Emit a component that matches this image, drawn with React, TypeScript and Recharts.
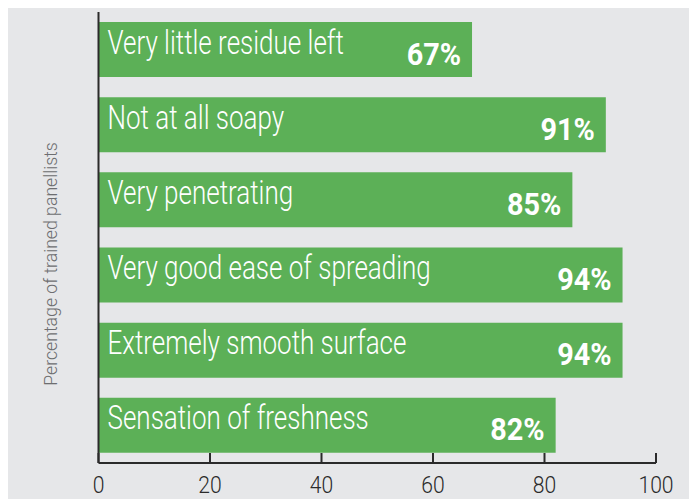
import React from "react";
import { BarChart, Bar, XAxis, YAxis, LabelList } from "recharts";

const categories = [
  "Very little residue left",
  "Not at all soapy",
  "Very penetrating",
  "Very good ease of spreading",
  "Extremely smooth surface",
  "Sensation of freshness",
];
const values = [67, 91, 85, 94, 94, 82];
const xTicks = [0, 20, 40, 60, 80, 100];

const data = categories.map((name, i) => ({ name, value: values[i] }));

const FONT = "Roboto, 'Liberation Sans', sans-serif";
const GREEN = "#5cb057";
const BG = "#e6e7e9";
const INK = "#2b2b2b";

// condensed look: squeeze the glyphs horizontally
const NameLabel = (p: any) => (
  <text
    transform={`translate(${p.x + 9},${p.y + p.height / 2 + 4}) scale(0.765,1)`}
    fill="#fff"
    fontFamily={FONT}
    fontSize={34}
    fontWeight={300}
  >
    {p.value}
  </text>
);

const ValueLabel = (p: any) => (
  <text
    transform={`translate(${p.x + p.width - 11},${p.y + p.height / 2 + 15}) scale(0.93,1)`}
    fill="#fff"
    fontFamily={FONT}
    fontSize={31}
    fontWeight={700}
    textAnchor="end"
  >
    {p.value}%
  </text>
);

const XTick = (p: any) => (
  <g>
    <line x1={p.x} x2={p.x} y1={p.y - 10} y2={p.y} stroke={INK} strokeWidth={2} />
    <text
      transform={`translate(${p.x},${p.y + 30}) scale(0.92,1)`}
      textAnchor="middle"
      fill={INK}
      fontFamily={FONT}
      fontSize={23}
      fontWeight={300}
    >
      {p.payload.value}
    </text>
  </g>
);

export default function App() {
  return (
    <div style={{ width: 689, height: 491, background: BG, position: "relative" }}>
      <BarChart
        width={689}
        height={491}
        data={data}
        layout="vertical"
        margin={{ top: 4, right: 41, bottom: 0, left: 0 }}
        barCategoryGap={10}
      >
        <XAxis
          type="number"
          domain={[0, 100]}
          ticks={xTicks}
          height={36}
          tickSize={0}
          tickMargin={0}
          tickLine={false}
          axisLine={{ stroke: INK, strokeWidth: 2 }}
          tick={<XTick />}
        />
        <YAxis
          type="category"
          dataKey="name"
          width={90.5}
          tick={false}
          tickLine={false}
          axisLine={{ stroke: INK, strokeWidth: 2 }}
        />
        <Bar dataKey="value" fill={GREEN} isAnimationActive={false}>
          <LabelList dataKey="name" content={<NameLabel />} />
          <LabelList dataKey="value" content={<ValueLabel />} />
        </Bar>
      </BarChart>
      <div
        style={{
          position: "absolute",
          left: 42,
          top: 256,
          transform: "translate(-50%, -50%) rotate(-90deg) scaleX(0.93)",
          whiteSpace: "nowrap",
          fontFamily: FONT,
          fontSize: 19,
          fontWeight: 300,
          color: "#6d6e70",
        }}
      >
        Percentage of trained panellists
      </div>
    </div>
  );
}
